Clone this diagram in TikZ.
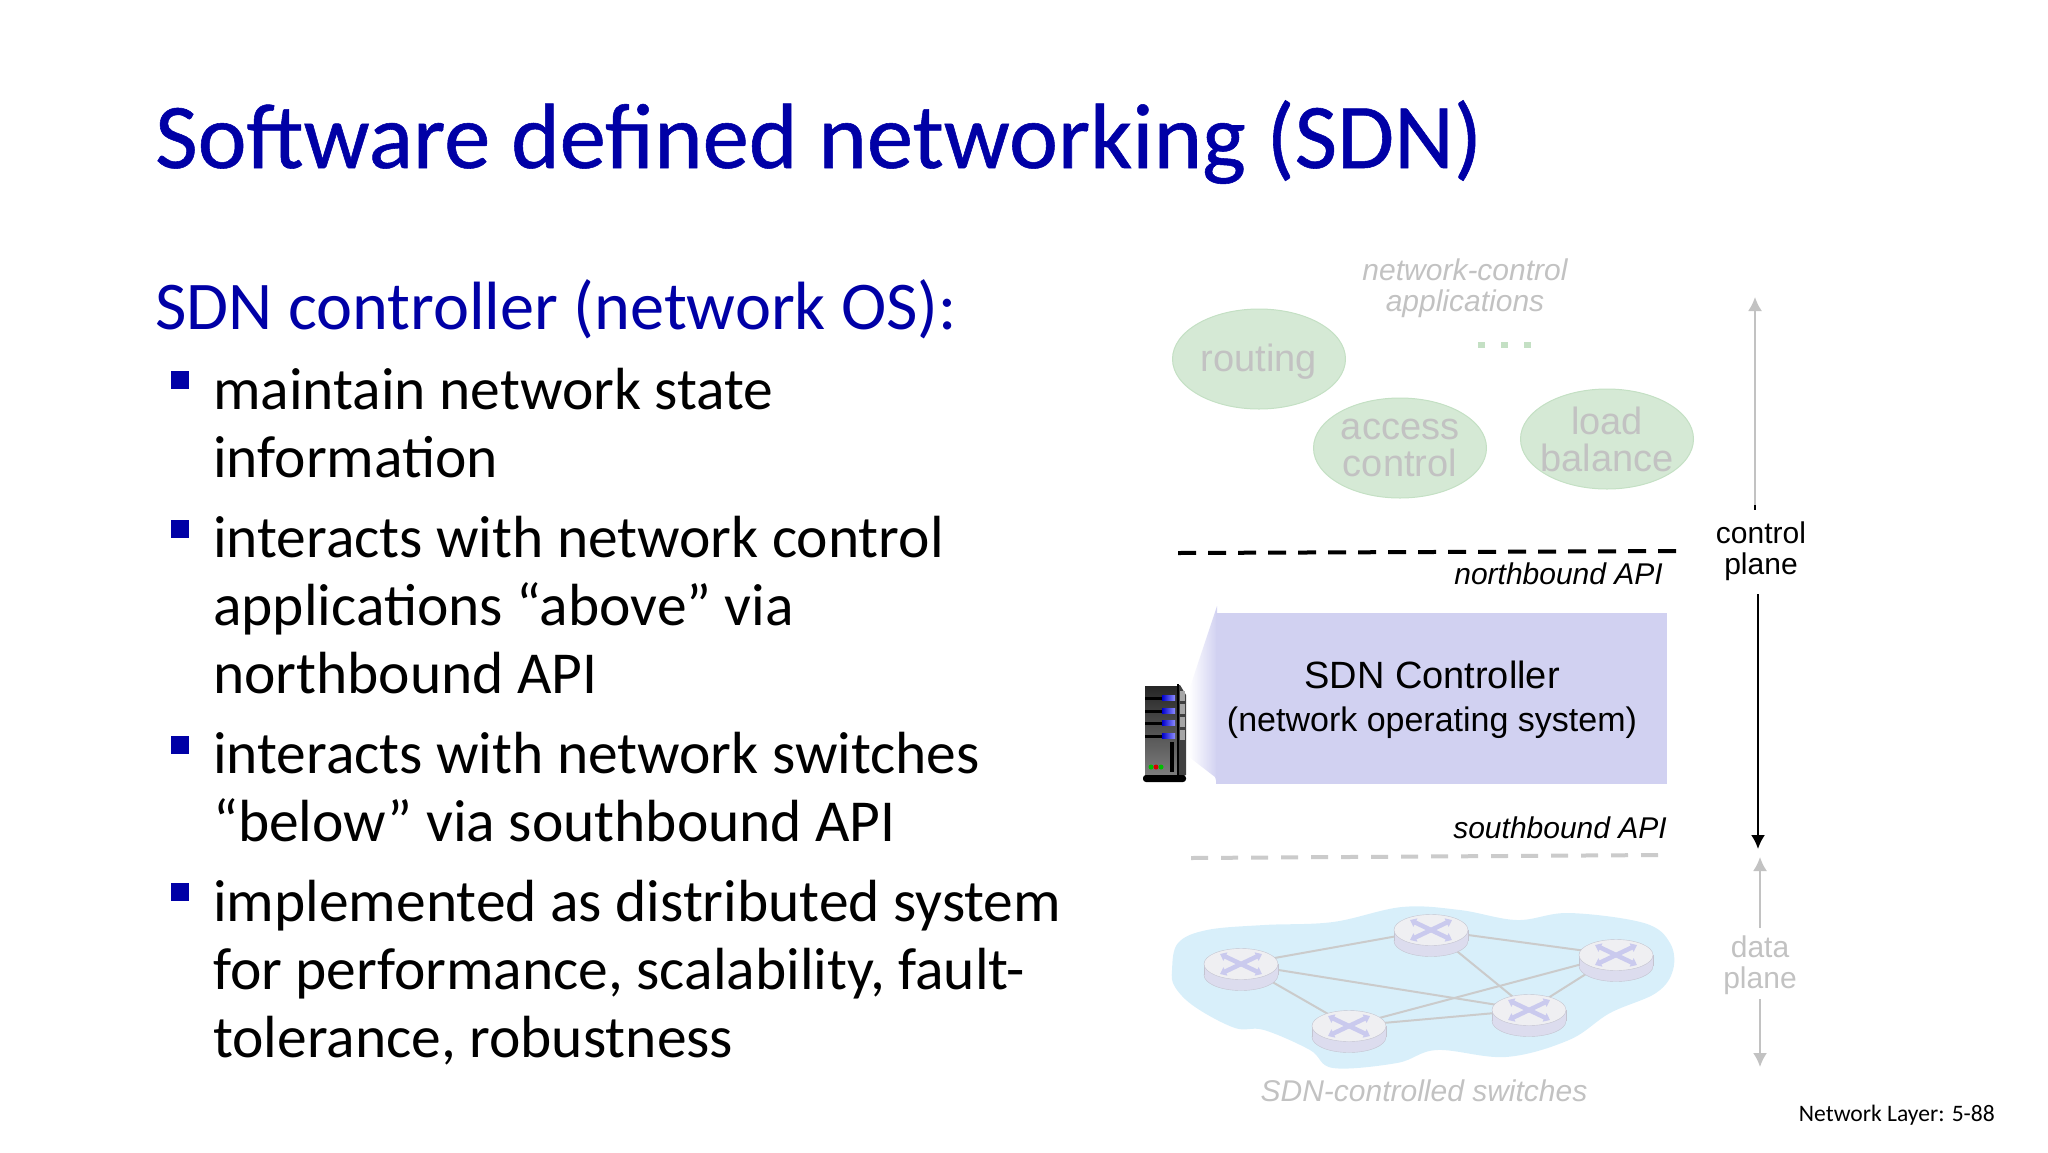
\documentclass[tikz,border=0pt]{standalone}
\usepackage{fontspec}
\setmainfont{Carlito}
\newfontfamily\arial{Liberation Sans}
\newfontfamily\titlefont[FakeBold=0.6]{Carlito}
\usetikzlibrary{arrows.meta,shapes.geometric}
\definecolor{slideblue}{HTML}{0000A6}
\definecolor{appgreen}{HTML}{D5E9D5}
\definecolor{appedge}{HTML}{C4E0C4}
\definecolor{fadegray}{HTML}{C2C2C2}
\definecolor{ctrlblue}{HTML}{D1D1F1}
\definecolor{cloudblue}{HTML}{D8EFFA}
\definecolor{swtop}{HTML}{EFEFF2}
\definecolor{swside}{HTML}{DCDCEE}
\definecolor{swedge}{HTML}{C4C4D0}
\definecolor{swcross}{HTML}{CACAEE}
\tikzset{
  body/.style={font=\fontsize{59.5}{68}\selectfont,anchor=base west,inner sep=0pt},
  bullet/.style={fill=slideblue,inner sep=0pt,minimum size=18pt},
  app/.style={ellipse,fill=appgreen,draw=appedge,line width=1pt,minimum width=173pt,minimum height=100pt,inner sep=-15pt,
    text=fadegray,align=center,font=\arial\fontsize{38}{37}\selectfont},
  fig/.style={font=\arial\fontsize{30}{31}\selectfont,align=center,inner sep=0pt},
  figi/.style={font=\arial\itshape\fontsize{30}{31}\selectfont,align=center,inner sep=0pt},
  link/.style={draw=fadegray!85!white,line width=2pt},
  up/.style={-{Latex[length=14pt,width=14pt]},line width=2pt},
}
\begin{document}
\begin{tikzpicture}[x=1pt,y=-1pt]
  \useasboundingbox (0,0) rectangle (2048,1152);
  % title and text
  \node[anchor=base west,inner sep=0pt,text=slideblue,font=\titlefont\fontsize{92.6}{96}\selectfont] (title) at (155,168) {Software defined networking (SDN)};
  \node[anchor=base west,inner sep=0pt,text=slideblue,font=\fontsize{68.3}{72}\selectfont] (head) at (155,329) {SDN controller (network OS):};
  \foreach \n/\y/\t in {1/409/{maintain network state},2/477/information,3/557/{interacts with network control},
    4/625/{applications “above” via},5/693/{northbound API},6/773/{interacts with network switches},
    7/841/{“below” via southbound API},8/921/{implemented as distributed system},
    9/989/{for performance, scalability, fault-},10/1057/{tolerance, robustness}}
    \node[body] (line\n) at (213,\y) {\t};
  \foreach \n/\y in {1/380,2/529,3/745,4/892}
    \node[bullet] (bul\n) at (180,\y) {};
  \node[anchor=base east,inner sep=0pt,font=\fontsize{23.6}{25}\selectfont] (page) at (1995,1121) {Network Layer: 5-88};
  % applications
  \node[figi,text=fadegray] (apps) at (1465,288) {network-control\\applications};
  \node[app] (routing) at (1259,359) {};
  \node[app,fill=none,draw=none] (routingText) at (1259,362) {routing};
  \node[app] (access) at (1400,448) {access\\control};
  \node[app] (load) at (1607,439) {load\\balance};
  \foreach \n/\x in {1/1481,2/1504,3/1527}
    \node[fill=appedge,inner sep=0pt,minimum width=7pt,minimum height=6pt] (dot\n) at (\x,345) {};
  % api lines
  \coordinate (nbL) at (1178,553);
  \coordinate (nbR) at (1684,551);
  \coordinate (sbL) at (1191,858);
  \coordinate (sbR) at (1662,855);
  \draw[line width=4pt,dash pattern=on 18pt off 12pt] (nbL) -- (nbR);
  \draw[line width=4pt,dash pattern=on 17pt off 13pt,draw=fadegray!85!white] (sbL) -- (sbR);
  \node[figi,anchor=east] (north) at (1663,574) {northbound API};
  \node[figi,anchor=east] (south) at (1667,828) {southbound API};
  % controller
  \shade[left color=white,right color=ctrlblue] (1189,690) -- (1217,606) -- (1217,784) -- (1215,777) -- (1189,757) -- cycle;
  \node[fill=ctrlblue,inner sep=0pt,minimum width=451pt,minimum height=171pt] (ctrl) at (1441.5,698) {};
  \node[font=\arial\fontsize{38}{40}\selectfont,inner sep=0pt] (ctrlName) at (1432,675) {SDN Controller};
  \node[font=\arial\fontsize{34}{40}\selectfont,inner sep=0pt] (ctrlDesc) at (1432,723) {(network operating system)};
  % server
  \fill[black!75] (1178,685) -- (1180,685) -- (1186,695) -- (1186,775) -- (1178,778) -- cycle;
  \foreach \y in {700,713,726,739}
    \fill[black!35] (1180,\y-9) rectangle (1185,\y+1);
  \shade[top color=black!85,bottom color=black!50] (1145,686) rectangle (1178,778);
  \fill[black] (1177,684) rectangle (1179,778);
  \foreach \y in {698,711,723,736}{
    \fill[black] (1145,\y-1.5) rectangle (1172,\y+1.5);
    \shade[left color=blue!80!black,right color=blue!45!white] (1162,\y-2.5) rectangle (1175,\y+2.5);
  }
  \fill[black] (1170,742) rectangle (1174,772);
  \fill[green!75!black] (1151,767) circle (2.5);
  \fill[red!85!black] (1156,767) circle (2.5);
  \fill[green!75!black] (1161,767) circle (2.5);
  \fill[black,rounded corners=3pt] (1143,775) rectangle (1186,782);
  % arrows
  \coordinate (cpUpA) at (1755,505);
  \coordinate (cpUpB) at (1755,297);
  \coordinate (cpEnd) at (1755,510);
  \coordinate (cpDnA) at (1758,594);
  \coordinate (cpDnB) at (1758,849);
  \coordinate (dpUpA) at (1760,928);
  \coordinate (dpUpB) at (1760,857);
  \coordinate (dpDnA) at (1760,999);
  \coordinate (dpDnB) at (1760,1067);
  \draw[up,draw=fadegray,fill=fadegray] (cpUpA) -- (cpUpB);
  \draw[line width=2pt] (cpUpA) -- (cpEnd);
  \draw[up] (cpDnA) -- (cpDnB);
  \draw[up,draw=fadegray,fill=fadegray] (dpUpA) -- (dpUpB);
  \draw[up,draw=fadegray,fill=fadegray] (dpDnA) -- (dpDnB);
  \node[fig] (cplane) at (1761,551) {control\\plane};
  \node[fig,text=fadegray] (dplane) at (1760,965) {data\\plane};
  % switches
  \fill[cloudblue] plot[smooth cycle,tension=0.6] coordinates {(1172,970) (1178,943) (1207,930) (1264,925) (1333,922)
    (1402,907) (1460,910) (1517,920) (1569,913) (1644,923) (1670,943) (1673,970) (1656,993) (1610,1013)
    (1569,1040) (1506,1057) (1437,1050) (1397,1063) (1333,1068) (1310,1050) (1264,1030) (1235,1028) (1195,1007) (1175,987)};
  \coordinate (swA) at (1241,964);
  \coordinate (swB) at (1431,930);
  \coordinate (swC) at (1616,955);
  \coordinate (swD) at (1529,1010);
  \coordinate (swE) at (1349,1026);
  \foreach \a/\b in {swA/swB,swB/swC,swA/swE,swA/swD,swE/swC,swE/swD,swB/swD,swD/swC}
    \draw[link] (\a) -- (\b);
  \foreach \s in {swA,swB,swC,swD,swE}{
    \begin{scope}[shift={(\s)}]
      \filldraw[fill=swside,draw=swedge] (0,11) ellipse [x radius=37pt,y radius=15.5pt];
      \fill[swside] (-37,0) rectangle (37,11);
      \draw[swedge] (-37,0) -- (-37,11) (37,0) -- (37,11);
      \filldraw[fill=swtop,draw=swedge] (0,0) ellipse [x radius=37pt,y radius=15.5pt];
      \draw[swcross,line width=4.5pt,{Triangle[length=6pt,width=9pt]}-{Triangle[length=6pt,width=9pt]}] (-21,-10) -- (21,10);
      \draw[swcross,line width=4.5pt,{Triangle[length=6pt,width=9pt]}-{Triangle[length=6pt,width=9pt]}] (-21,10) -- (21,-10);
    \end{scope}
  }
  \node[figi,text=fadegray] (swlabel) at (1424,1091) {SDN-controlled switches};
\end{tikzpicture}
\end{document}
